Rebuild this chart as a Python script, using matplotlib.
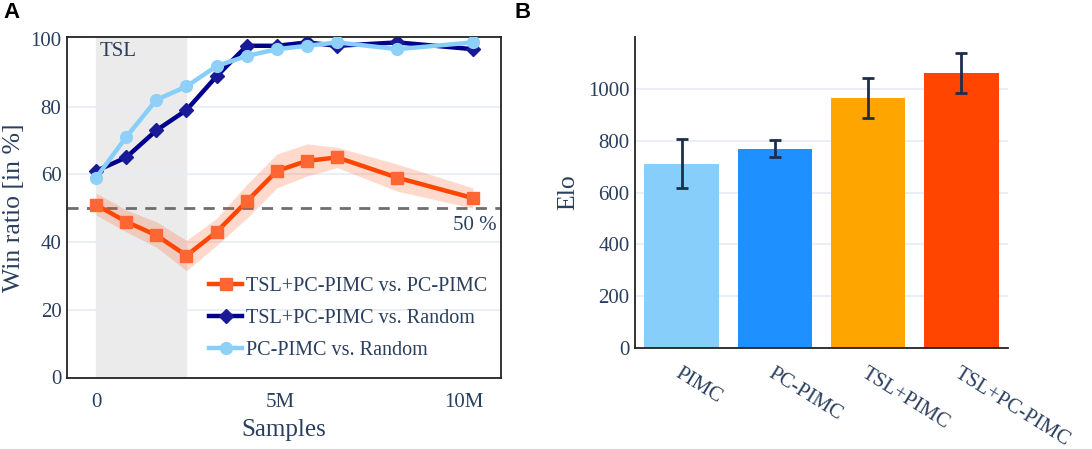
import matplotlib
matplotlib.use("Agg")
import matplotlib.pyplot as plt
import numpy as np

# panel A data (samples in millions)
samples = [0.0, 0.8192, 1.6384, 2.4576, 3.2768, 4.096, 4.9152, 5.7344, 6.5536, 8.192, 10.24]
tsl_vs_pc = [51, 46, 42, 36, 43, 52, 61, 64, 65, 59, 53]
tsl_vs_pc_hi = [54.5, 49.5, 46, 40.5, 47, 57, 66, 69, 68, 63, 56]
tsl_vs_pc_lo = [48, 43, 38.5, 31.5, 39, 47, 56, 59.5, 62, 55, 50]
tsl_vs_rand = [61, 65, 73, 79, 89, 98, 98, 99, 98, 99, 97]
pc_vs_rand = [59, 71, 82, 86, 92, 95, 97, 98, 99, 97, 99]
tsl_end = 2.4576

# panel B data
agents = ['PIMC', 'PC-PIMC', 'TSL+PIMC', 'TSL+PC-PIMC']
elo = [711, 770, 965, 1064]
elo_err = [95, 32, 77, 77]
bar_colors = ['#87CEFA', '#1E90FF', '#FFA500', '#FF4500']

txt = '#2a3f5f'
grid = '#e5ecf6'
plt.rcParams['font.family'] = ['Liberation Serif', 'DejaVu Serif']

fig = plt.figure(figsize=(10.92, 4.49), dpi=100)
axA = fig.add_axes([0.0614, 0.1581, 0.3974, 0.7595])
axB = fig.add_axes([0.5815, 0.2256, 0.3416, 0.6920])

# ---- panel A
axA.axvspan(0, tsl_end, ymin=0, ymax=1, color='#ebebeb', zorder=0)
for v in [20, 40, 60, 80]:
    axA.axhline(v, color=grid, lw=1.2, zorder=0.5)
axA.axhline(50, color='#6e6e6e', lw=2, ls=(0, (4, 3)), zorder=1)
axA.fill_between(samples, tsl_vs_pc_lo, tsl_vs_pc_hi, color='#FF4500', alpha=0.2, lw=0, zorder=2)
axA.plot(samples, tsl_vs_pc, color='#FF4500', lw=3.2, marker='s', ms=8,
         mfc='#FF6633', mec='#FF6633', label='TSL+PC-PIMC vs. PC-PIMC', zorder=3)
axA.plot(samples, tsl_vs_rand, color='#00008B', lw=3.2, marker='D', ms=7.5,
         mfc='#1a1a99', mec='#1a1a99', label='TSL+PC-PIMC vs. Random', zorder=4)
axA.plot(samples, pc_vs_rand, color='#87CEFA', lw=3.2, marker='o', ms=8.5,
         mfc='#8fd0f8', mec='#8fd0f8', label='PC-PIMC vs. Random', zorder=5)
axA.set_xlim(-0.788, 11.005)
axA.set_ylim(-0.2, 100.6)
axA.set_xticks([0, 5, 10])
axA.set_xticklabels(['0', '5M', '10M'])
axA.set_yticks([0, 20, 40, 60, 80, 100])
axA.tick_params(length=0, labelsize=15, labelcolor=txt)
axA.tick_params(axis='x', pad=11)
axA.tick_params(axis='y', pad=4)
for s in axA.spines.values():
    s.set_color('#222222')
    s.set_linewidth(1.3)
axA.set_xlabel('Samples', fontsize=18, color=txt, labelpad=5)
axA.set_ylabel('Win ratio [in %]', fontsize=18.5, color=txt, labelpad=4)
axA.text(0.1, 99, 'TSL', fontsize=15, color=txt, va='top', ha='left')
axA.text(0.99, 0.475, '50 %', transform=axA.transAxes, fontsize=15, color=txt,
         ha='right', va='top')
axA.legend(loc='lower left', bbox_to_anchor=(0.305, 0.022), frameon=False,
           fontsize=14.5, handlelength=1.6, handletextpad=0.2, labelspacing=0.65,
           labelcolor=txt, borderpad=0)

# ---- panel B
x = np.arange(len(agents))
for v in [200, 400, 600, 800, 1000]:
    axB.axhline(v, color=grid, lw=1.2, zorder=0)
axB.bar(x, elo, width=0.8, color=bar_colors, zorder=2)
axB.errorbar(x, elo, yerr=elo_err, fmt='none', ecolor='#1f2d4d', elinewidth=2,
             capsize=4, capthick=2, zorder=3)
axB.set_xlim(-0.5, 3.5)
axB.set_ylim(0, 1202)
axB.set_yticks([0, 200, 400, 600, 800, 1000])
axB.set_xticks(x)
axB.set_xticklabels(agents, rotation=-32, ha='left', rotation_mode='anchor')
axB.tick_params(length=0, labelsize=15, labelcolor=txt)
axB.tick_params(axis='x', pad=12)
axB.tick_params(axis='y', pad=4)
axB.spines['top'].set_visible(False)
axB.spines['right'].set_visible(False)
for s in ['left', 'bottom']:
    axB.spines[s].set_color('#222222')
    axB.spines[s].set_linewidth(1.3)
axB.set_ylabel('Elo', fontsize=18.5, color=txt, labelpad=6)

fig.text(0.003, 0.995, 'A', fontsize=16, fontweight='bold', family='Liberation Sans', va='top')
fig.text(0.471, 0.995, 'B', fontsize=16, fontweight='bold', family='Liberation Sans', va='top')

fig.savefig('out.png', dpi=100)
